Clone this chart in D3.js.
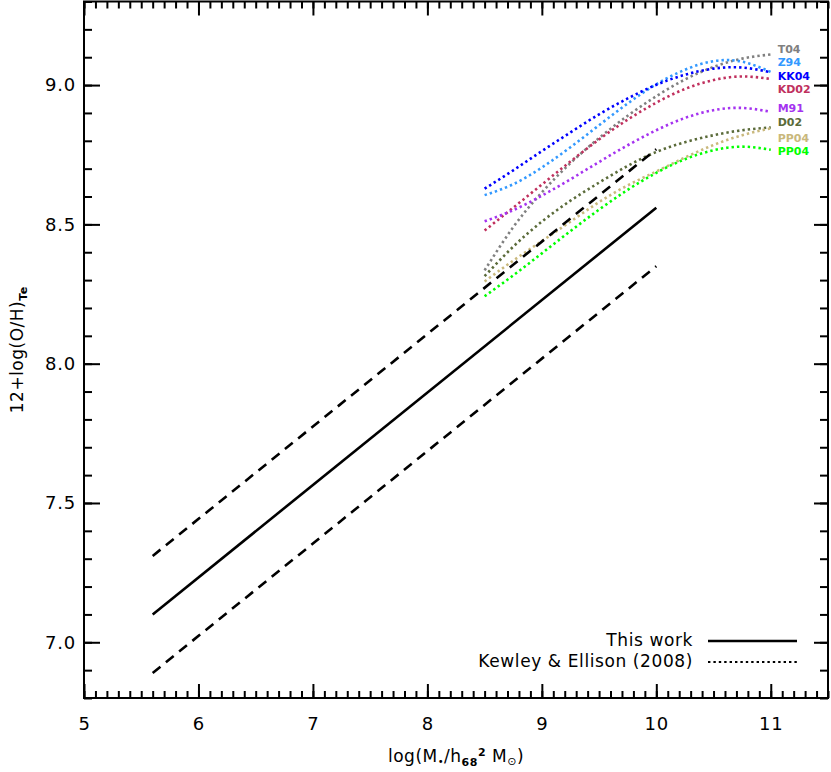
<!DOCTYPE html>
<html>
<head>
<meta charset="utf-8">
<script src="https://cdn.jsdelivr.net/npm/d3@7"></script>
<style>
  html, body { margin: 0; padding: 0; background: #fff; }
  svg { display: block; }
  text { font-family: "DejaVu Sans", sans-serif; }
</style>
</head>
<body>
<div id="chart"></div>
<script>
// stellar mass grid used for the Kewley & Ellison (2008) fits
const massGrid = [8.5, 8.75, 9.0, 9.25, 9.5, 9.75, 10.0, 10.25, 10.5, 10.75, 11.0];

const calibNames = ["T04", "Z94", "KK04", "KD02", "M91", "D02", "PP04", "PP04"];
const calibColors = ["#808080", "#3399ff", "#0000ff", "#c0305e", "#a533f0", "#5b6b3a", "#c9b87c", "#00ff00"];
const t04 = [8.335, 8.49, 8.615, 8.72, 8.81, 8.89, 8.96, 9.02, 9.065, 9.095, 9.11];
const z94 = [8.605, 8.644, 8.704, 8.777, 8.856, 8.934, 9.003, 9.055, 9.086, 9.084, 9.047];
const kk04 = [8.628, 8.694, 8.763, 8.83, 8.895, 8.952, 9.001, 9.037, 9.059, 9.063, 9.046];
const kd02 = [8.478, 8.56, 8.643, 8.726, 8.805, 8.876, 8.937, 8.986, 9.018, 9.031, 9.022];
const m91 = [8.511, 8.551, 8.603, 8.662, 8.724, 8.784, 8.838, 8.882, 8.91, 8.918, 8.904];
const d02 = [8.314, 8.42, 8.51, 8.585, 8.65, 8.71, 8.76, 8.795, 8.82, 8.838, 8.848];
const pp04n2 = [8.295, 8.37, 8.44, 8.51, 8.58, 8.64, 8.69, 8.74, 8.785, 8.82, 8.845];
const pp04o3n2 = [8.242, 8.317, 8.396, 8.476, 8.553, 8.624, 8.685, 8.734, 8.766, 8.779, 8.768];
const calibSeries = [t04, z94, kk04, kd02, m91, d02, pp04n2, pp04o3n2];
// where each calibration name sits at the right end (in O/H units)
const labelOH = [9.128, 9.081, 9.034, 8.985, 8.916, 8.869, 8.811, 8.765];

// this work: fit and its upper / lower envelope
const fitMass = [5.6, 10.0];
const fitOH = [7.1, 8.56];
const fitUpper = [7.31, 8.77];
const fitLower = [6.89, 8.35];

const xMajor = [5, 6, 7, 8, 9, 10, 11];
const yMajor = [7.0, 7.5, 8.0, 8.5, 9.0];

const width = 831, height = 772;
const plot = { left: 84, right: 828, top: 1.5, bottom: 698 };

const svg = d3.select("#chart").append("svg")
  .attr("width", width)
  .attr("height", height);

const x = d3.scaleLinear().domain([5, 11.5]).range([plot.left, plot.right]);
const y = d3.scaleLinear().domain([6.8, 9.3]).range([plot.bottom, plot.top]);

const xMinor = d3.range(50, 116).map((i) => i / 10);
const yMinor = d3.range(68, 94).map((i) => i / 10);

function styleAxis(g) {
  g.select(".domain").remove();
  g.selectAll(".tick line").attr("stroke", "#000").attr("stroke-width", 2);
  g.selectAll(".tick text")
    .attr("font-family", "DejaVu Sans, sans-serif")
    .attr("font-size", 18)
    .attr("letter-spacing", "0.8px")
    .style("fill", "#000");
}

// minor ticks, all four sides
svg.append("g").attr("transform", `translate(0,${plot.bottom})`)
  .call(d3.axisBottom(x).tickValues(xMinor).tickSize(-7).tickFormat(""))
  .call(styleAxis);
svg.append("g").attr("transform", `translate(0,${plot.top})`)
  .call(d3.axisTop(x).tickValues(xMinor).tickSize(-7).tickFormat(""))
  .call(styleAxis);
svg.append("g").attr("transform", `translate(${plot.left},0)`)
  .call(d3.axisLeft(y).tickValues(yMinor).tickSize(-8).tickFormat(""))
  .call(styleAxis);
svg.append("g").attr("transform", `translate(${plot.right},0)`)
  .call(d3.axisRight(y).tickValues(yMinor).tickSize(-8).tickFormat(""))
  .call(styleAxis);

// major ticks + labels
svg.append("g").attr("transform", `translate(0,${plot.bottom})`)
  .call(d3.axisBottom(x).tickValues(xMajor).tickSize(-14).tickPadding(19).tickFormat(d3.format("d")))
  .call(styleAxis);
svg.append("g").attr("transform", `translate(0,${plot.top})`)
  .call(d3.axisTop(x).tickValues(xMajor).tickSize(-14).tickFormat(""))
  .call(styleAxis);
svg.append("g").attr("transform", `translate(${plot.left},0)`)
  .call(d3.axisLeft(y).tickValues(yMajor).tickSize(-16).tickPadding(8).tickFormat(d3.format(".1f")))
  .call(styleAxis);
svg.append("g").attr("transform", `translate(${plot.right},0)`)
  .call(d3.axisRight(y).tickValues(yMajor).tickSize(-14).tickFormat(""))
  .call(styleAxis);

// frame
svg.append("rect")
  .attr("x", plot.left).attr("y", plot.top)
  .attr("width", plot.right - plot.left).attr("height", plot.bottom - plot.top)
  .attr("fill", "none").attr("stroke", "#000").attr("stroke-width", 2);

// Kewley & Ellison curves (dotted)
const curve = d3.line()
  .x((d, i) => x(massGrid[i]))
  .y((d) => y(d))
  .curve(d3.curveNatural);

calibSeries.forEach((s, k) => {
  svg.append("path")
    .datum(s)
    .attr("d", curve)
    .attr("fill", "none")
    .attr("stroke", calibColors[k])
    .attr("stroke-width", 2.6)
    .attr("stroke-dasharray", "2.4,3");
});

svg.selectAll(".calib-label")
  .data(calibNames)
  .join("text")
  .attr("class", "calib-label")
  .attr("x", x(11.06))
  .attr("y", (d, i) => y(labelOH[i]))
  .attr("dy", "0.36em")
  .attr("font-family", "Liberation Sans, Arial, sans-serif")
  .attr("font-weight", "bold")
  .attr("font-size", 11)
  .style("fill", (d, i) => calibColors[i])
  .text((d) => d);

// this work
const fitLine = d3.line().x((d, i) => x(fitMass[i])).y((d) => y(d));
svg.append("path").datum(fitOH).attr("d", fitLine)
  .attr("fill", "none").attr("stroke", "#000").attr("stroke-width", 2.6);
[fitUpper, fitLower].forEach((s) => {
  svg.append("path").datum(s).attr("d", fitLine)
    .attr("fill", "none").attr("stroke", "#000").attr("stroke-width", 2.6)
    .attr("stroke-dasharray", "10,7");
});

// legend
const legend = svg.append("g");
const legendItems = [
  { label: "This work", y: 641, dash: null },
  { label: "Kewley & Ellison (2008)", y: 662, dash: "2.4,3" },
];
legendItems.forEach((d) => {
  legend.append("text")
    .attr("x", 693).attr("y", d.y).attr("dy", "0.32em")
    .attr("text-anchor", "end")
    .attr("font-size", 17)
    .attr("letter-spacing", "0.6px")
    .style("fill", "#000")
    .text(d.label);
  legend.append("line")
    .attr("x1", 708).attr("x2", 797)
    .attr("y1", d.y).attr("y2", d.y)
    .attr("stroke", "#000")
    .attr("stroke-width", d.dash ? 2.2 : 2.6)
    .attr("stroke-dasharray", d.dash);
});

// axis titles
const xTitle = svg.append("text")
  .attr("x", (plot.left + plot.right) / 2)
  .attr("y", 762)
  .attr("text-anchor", "middle")
  .attr("font-size", 17)
  .attr("letter-spacing", "0.5px")
  .style("fill", "#000");
xTitle.append("tspan").text("log(M");
xTitle.append("tspan").attr("font-size", 10).attr("dy", 3).text("•");
xTitle.append("tspan").attr("dy", -3).text("/h");
xTitle.append("tspan").attr("font-size", 11).attr("font-weight", "bold").attr("dy", 4).text("68");
xTitle.append("tspan").attr("font-size", 11).attr("font-weight", "bold").attr("dy", -10).text("2");
xTitle.append("tspan").attr("dy", 6).text(" M");
xTitle.append("tspan").attr("font-size", 11).attr("dy", 3).text("⊙");
xTitle.append("tspan").attr("dy", -3).text(")");

const yTitle = svg.append("text")
  .attr("transform", `translate(23,${(plot.top + plot.bottom) / 2}) rotate(-90)`)
  .attr("text-anchor", "middle")
  .attr("font-size", 17)
  .attr("letter-spacing", "0.5px")
  .style("fill", "#000");
yTitle.append("tspan").text("12+log(O/H)");
yTitle.append("tspan").attr("font-size", 11).attr("font-weight", "bold").attr("dy", 4).text("Te");
</script>
</body>
</html>
